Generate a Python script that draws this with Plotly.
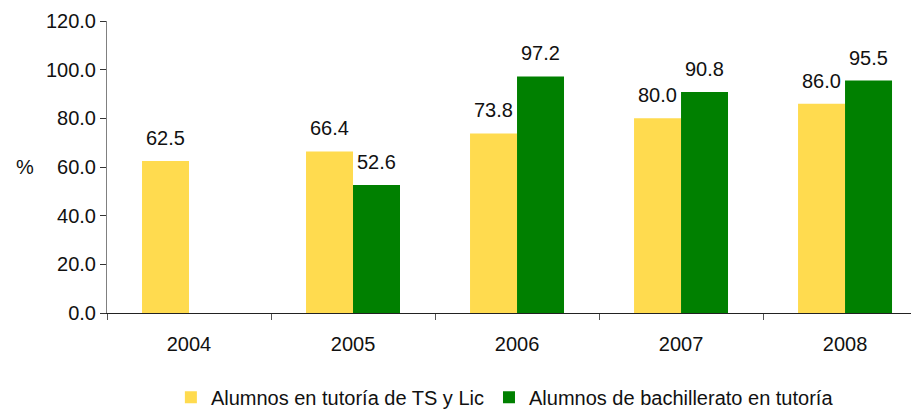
import plotly.graph_objects as go

years = ["2004", "2005", "2006", "2007", "2008"]
tutoria_ts_lic = [62.5, 66.4, 73.8, 80.0, 86.0]
bachillerato = [None, 52.6, 97.2, 90.8, 95.5]
y_ticks = [0, 20, 40, 60, 80, 100, 120]

YELLOW = "#FFDB4F"
GREEN = "#008000"
FONT = dict(family="Liberation Sans, Arial, sans-serif", size=20, color="#111111")

fig = go.Figure()
fig.add_trace(go.Bar(x=years, y=tutoria_ts_lic, name="Alumnos en tutoría de TS y Lic",
                     marker=dict(color=YELLOW, line=dict(width=0))))
fig.add_trace(go.Bar(x=years, y=bachillerato, name="Alumnos de bachillerato en tutoría",
                     marker=dict(color=GREEN, line=dict(width=0))))

# value labels above the bars (category index used as x)
annotations = []
for series, shift in ((tutoria_ts_lic, -23.5), (bachillerato, 23.5)):
    for i, v in enumerate(series):
        if v is None:
            continue
        annotations.append(dict(x=i, y=v, xref="x", yref="y", text=f"{v:.1f}",
                                showarrow=False, xshift=shift, yshift=10,
                                yanchor="bottom", font=FONT))
annotations.append(dict(x=-0.114, y=60, xref="paper", yref="y", text="%",
                        showarrow=False, font=FONT))

# page body adds an 8px margin, so the figure is 8px smaller than the window
fig.update_layout(
    width=911, height=401,
    margin=dict(l=99, r=0, t=13, b=96, autoexpand=False),
    paper_bgcolor="white", plot_bgcolor="white",
    font=FONT,
    barmode="group", bargap=0.427, bargroupgap=0,
    annotations=annotations,
    legend=dict(orientation="h", x=0.49, xanchor="center", y=-0.222, yanchor="top",
                font=FONT, itemwidth=30, traceorder="normal", tracegroupgap=0),
    showlegend=True,
)
fig.update_xaxes(type="category", range=[-0.5, 4.451], showline=True, linecolor="#222222",
                 linewidth=1, ticks="outside", tickson="boundaries", ticklen=6,
                 tickcolor="#555555", showgrid=False, ticklabelstandoff=13, tickfont=FONT,
                 automargin=False)
fig.update_yaxes(range=[0, 120], tickvals=y_ticks, tickformat=".1f", showline=True,
                 linecolor="#808080", linewidth=1, ticks="outside", ticklen=6,
                 tickcolor="#333333", showgrid=False, zeroline=False, tickfont=FONT,
                 automargin=False)

fig.write_html("out.html")
